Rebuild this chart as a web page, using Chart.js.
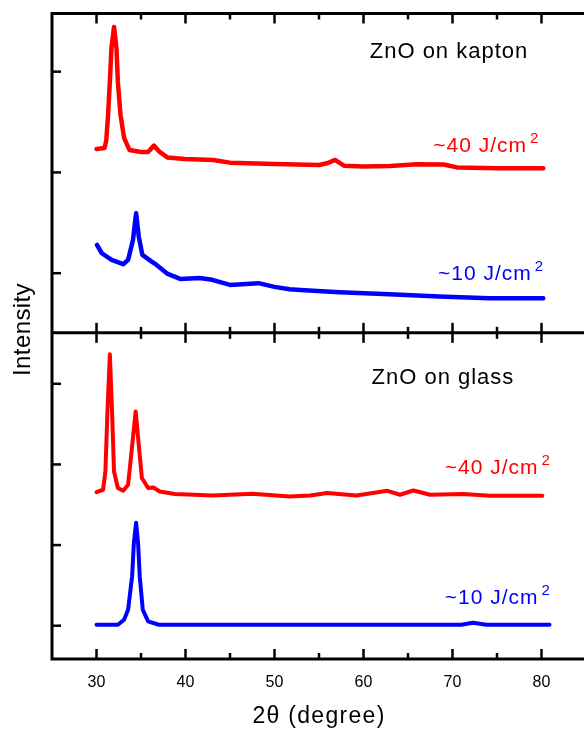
<!DOCTYPE html>
<html>
<head>
<meta charset="utf-8">
<title>XRD ZnO</title>
<script src="https://cdn.jsdelivr.net/npm/chart.js@4"></script>
<style>
  html, body { margin: 0; padding: 0; background: #fff; overflow: hidden; }
  #wrap { position: relative; width: 600px; height: 729px; }
</style>
</head>
<body>
<div id="wrap"><canvas id="xrd" width="600" height="729"></canvas></div>
<script>
// 2-theta (degree) / intensity (a.u.)
const kaptonHighX = [30.0, 30.9, 31.1, 31.3, 31.5, 31.68, 31.97, 32.24, 32.4, 32.7, 33.1, 33.7, 35.0, 35.8, 36.45, 37.1, 38.0, 39.9, 43.1, 45.0, 50.0, 55.0, 56.0, 56.8, 57.8, 60.0, 63.0, 66.0, 69.0, 70.5, 75.0, 80.2];
const kaptonHighY = [2.233, 2.243, 2.32, 2.570, 2.898, 3.235, 3.443, 3.235, 2.898, 2.570, 2.342, 2.223, 2.203, 2.203, 2.266, 2.203, 2.147, 2.134, 2.124, 2.097, 2.084, 2.074, 2.094, 2.124, 2.067, 2.058, 2.064, 2.081, 2.079, 2.050, 2.042, 2.042];

const kaptonLowX = [30.05, 30.6, 31.7, 33.0, 33.55, 34.1, 34.45, 34.75, 35.15, 36.2, 36.75, 38.0, 39.4, 41.6, 43.0, 45.0, 48.2, 50.0, 51.7, 52.9, 57.3, 62.9, 68.5, 74.1, 80.2];
const kaptonLowY = [1.281, 1.198, 1.132, 1.089, 1.132, 1.330, 1.595, 1.363, 1.182, 1.115, 1.082, 0.993, 0.943, 0.953, 0.934, 0.884, 0.901, 0.864, 0.841, 0.834, 0.812, 0.792, 0.768, 0.752, 0.752];

const glassHighX = [30.0, 30.74, 31.0, 31.23, 31.5, 31.75, 31.97, 32.4, 33.0, 33.55, 33.9, 34.4, 34.75, 35.1, 35.8, 36.4, 37.1, 38.8, 43.1, 47.5, 51.7, 54.0, 55.9, 59.2, 62.7, 64.1, 65.6, 67.5, 71.2, 74.2, 80.1];
const glassHighY = [2.657, 2.686, 2.913, 3.657, 4.366, 3.657, 2.913, 2.707, 2.673, 2.748, 3.120, 3.657, 3.244, 2.831, 2.707, 2.714, 2.665, 2.633, 2.615, 2.636, 2.603, 2.615, 2.645, 2.615, 2.673, 2.624, 2.677, 2.624, 2.633, 2.611, 2.611];

const glassLowX = [30.0, 32.4, 33.1, 33.55, 34.0, 34.2, 34.45, 34.67, 34.86, 35.2, 35.8, 37.0, 71.0, 72.3, 73.8, 80.9];
const glassLowY = [1.012, 1.012, 1.074, 1.198, 1.611, 2.025, 2.277, 2.029, 1.611, 1.198, 1.053, 1.012, 1.012, 1.037, 1.012, 1.012];

// axes
const xTicks = [30, 35, 40, 45, 50, 55, 60, 65, 70, 75, 80];
const xLabels = [30, 40, 50, 60, 70, 80];
const yTopTicks = [1, 2, 3];
const yBotTicks = [1, 2, 3, 4];

// texts
const panelTitles = ["ZnO on kapton", "ZnO on glass"];
const fluenceLabels = ["~40 J/cm", "~10 J/cm"];
const yTitle = "Intensity";
const xTitle = "2\u03b8 (degree)";

const RED = "#ff0000";
const BLUE = "#0000ff";
const FONT = "'Liberation Sans', Arial, sans-serif";

const pts = (xs, ys) => xs.map((x, i) => ({ x, y: ys[i] }));

const decorPlugin = {
  id: "decor",
  afterDraw(chart) {
    const { ctx } = chart;
    const x = chart.scales.x, yT = chart.scales.yTop, yB = chart.scales.yBot;
    const L = x.left, R = x.right, T = yT.top, M = yT.bottom, B = yB.bottom;
    const seg = (x1, y1, x2, y2) => { ctx.beginPath(); ctx.moveTo(x1, y1); ctx.lineTo(x2, y2); ctx.stroke(); };

    ctx.save();
    ctx.strokeStyle = "#000";
    ctx.lineWidth = 2.5;
    // inward ticks
    xTicks.forEach(v => {
      const px = x.getPixelForValue(v);
      const len = v % 10 === 0 ? 10 : 6;
      seg(px, T, px, T + len);
      seg(px, M - len, px, M + len);
      seg(px, B - len, px, B);
    });
    yTopTicks.forEach(v => { const py = yT.getPixelForValue(v); seg(L, py, L + 9, py); });
    yBotTicks.forEach(v => { const py = yB.getPixelForValue(v); seg(L, py, L + 9, py); });

    ctx.lineWidth = 3;
    ctx.strokeRect(L, T, R - L, B - T);
    seg(L, M, R, M);

    // labels
    const text = (str, px, py, size, color, spacing) => {
      ctx.font = `${size}px ${FONT}`;
      ctx.fillStyle = color;
      ctx.letterSpacing = "0px";
      const w = ctx.measureText(str).width + spacing * str.length;
      ctx.letterSpacing = spacing + "px";
      ctx.textAlign = "left";
      ctx.textBaseline = "alphabetic";
      ctx.fillText(str, px, py);
      return w;
    };
    const fluence = (str, xv, yv, scale, color) => {
      const px = x.getPixelForValue(xv), py = scale.getPixelForValue(yv);
      const w = text(str, px, py, 21, color, 1);
      text("2", px + w + 3, py - 9, 15, color, 0);
    };

    text(panelTitles[0], x.getPixelForValue(60.7), yT.getPixelForValue(3.133), 22, "#000", 1);
    text(panelTitles[1], x.getPixelForValue(60.9), yB.getPixelForValue(4.0), 22, "#000", 1);
    fluence(fluenceLabels[0], 67.84, 2.206, yT, RED);
    fluence(fluenceLabels[1], 68.38, 0.934, yT, BLUE);
    fluence(fluenceLabels[0], 69.13, 2.884, yB, RED);
    fluence(fluenceLabels[1], 69.13, 1.273, yB, BLUE);

    // axis titles
    ctx.font = `23px ${FONT}`;
    ctx.letterSpacing = "0px";
    const tw = ctx.measureText(xTitle).width + 1.3 * xTitle.length;
    text(xTitle, (L + R) / 2 - tw / 2, 723.3, 23, "#000", 1.3);

    ctx.translate(29.5, 376);
    ctx.rotate(-Math.PI / 2);
    text(yTitle, 0, 0, 24, "#000", 0.4);
    ctx.restore();
  }
};

new Chart(document.getElementById("xrd"), {
  type: "line",
  data: {
    datasets: [
      { label: "kapton ~40 J/cm2", data: pts(kaptonHighX, kaptonHighY), yAxisID: "yTop", borderColor: RED, borderWidth: 4.5 },
      { label: "kapton ~10 J/cm2", data: pts(kaptonLowX, kaptonLowY), yAxisID: "yTop", borderColor: BLUE, borderWidth: 4.5 },
      { label: "glass ~40 J/cm2", data: pts(glassHighX, glassHighY), yAxisID: "yBot", borderColor: RED, borderWidth: 4 },
      { label: "glass ~10 J/cm2", data: pts(glassLowX, glassLowY), yAxisID: "yBot", borderColor: BLUE, borderWidth: 4 }
    ]
  },
  options: {
    responsive: false,
    animation: false,
    devicePixelRatio: 1,
    elements: {
      point: { radius: 0 },
      line: { tension: 0, fill: false, borderJoinStyle: "round", borderCapStyle: "round" }
    },
    layout: { padding: { left: 52, top: 13.5, right: 14, bottom: 0 } },
    plugins: { legend: { display: false }, tooltip: { enabled: false } },
    scales: {
      x: {
        type: "linear", min: 25, max: 85,
        grid: { display: false, drawTicks: false },
        border: { display: false },
        ticks: {
          stepSize: 5, autoSkip: false, maxRotation: 0, padding: 14, color: "#000",
          font: { family: FONT, size: 16 },
          callback: v => xLabels.includes(v) ? String(v) : ""
        },
        afterFit: s => { s.height = 70; }
      },
      yTop: { type: "linear", axis: "y", position: "left", display: false, min: 0.408, max: 3.577, stack: "panels", stackWeight: 319.5, weight: 2 },
      yBot: { type: "linear", axis: "y", position: "left", display: false, min: 0.587, max: 4.632, stack: "panels", stackWeight: 326.3, weight: 1 }
    }
  },
  plugins: [decorPlugin]
});
</script>
</body>
</html>
